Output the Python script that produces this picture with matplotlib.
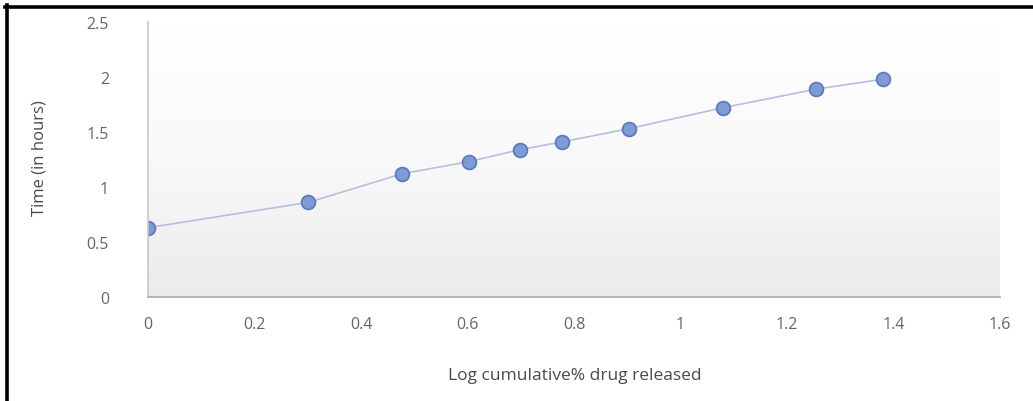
import matplotlib
matplotlib.use("Agg")
import matplotlib.pyplot as plt
import numpy as np
from matplotlib.colors import LinearSegmentedColormap
from matplotlib.lines import Line2D

# Data
log_cum_release = [0.0, 0.301, 0.477, 0.602, 0.699, 0.778, 0.903, 1.079, 1.255, 1.380]
time_hours = [0.63, 0.86, 1.12, 1.23, 1.34, 1.41, 1.53, 1.72, 1.89, 1.98]
x_ticks = [0, 0.2, 0.4, 0.6, 0.8, 1.0, 1.2, 1.4, 1.6]
x_tick_labels = ["0", "0.2", "0.4", "0.6", "0.8", "1", "1.2", "1.4", "1.6"]
y_ticks = [0, 0.5, 1.0, 1.5, 2.0, 2.5]
y_tick_labels = ["0", "0.5", "1", "1.5", "2", "2.5"]
x_label = "Log cumulative% drug released"
y_label = "Time (in hours)"

W, H = 1033, 402
fig = plt.figure(figsize=(W / 100, H / 100), dpi=100)
fig.patch.set_facecolor("white")

ax = fig.add_axes([148 / W, 1 - 298 / H, (1000 - 148) / W, (298 - 23) / H])
ax.set_xlim(0, 1.6)
ax.set_ylim(0, 2.5)
ax.set_facecolor("white")

# plot-area gradient (white at top to light gray at bottom)
cmap = LinearSegmentedColormap.from_list("g", ["#ebebeb", "#f9f9f9", "#ffffff"])
grad = np.linspace(0, 1, 256).reshape(-1, 1)
ax.imshow(grad, cmap=cmap, aspect="auto", extent=[0, 1, 0, 1],
          transform=ax.transAxes, origin="lower", zorder=0)

ax.plot(log_cum_release, time_hours, color="#b4c0dc", lw=1.2, zorder=2,
        marker="o", markersize=10, markerfacecolor="#7e9bd4",
        markeredgecolor="#5a78bb", markeredgewidth=1.2)

ax.set_xticks(x_ticks)
ax.set_xticklabels(x_tick_labels)
ax.set_yticks(y_ticks)
ax.set_yticklabels(y_tick_labels)
ax.tick_params(axis="both", length=0, labelsize=11.5, labelcolor="#666666")
ax.tick_params(axis="x", pad=14)
ax.tick_params(axis="y", pad=28)
for lab in ax.get_xticklabels() + ax.get_yticklabels():
    lab.set_family("Open Sans")

for s in ["top", "right"]:
    ax.spines[s].set_visible(False)
ax.spines["left"].set_color("#c8c8c8")
ax.spines["bottom"].set_color("#a8a8a8")
ax.spines["left"].set_linewidth(1.2)
ax.spines["bottom"].set_linewidth(1.2)

fig.text(575 / W, 1 - 376 / H, x_label, ha="center", va="center",
         fontsize=12.5, color="#4a4a4a", family="Open Sans")
fig.text(40 / W, 1 - 158 / H, y_label, ha="center", va="center",
         rotation=90, fontsize=12, color="#4a4a4a", family="Open Sans")

# black page frame (top and left edges)
fig.add_artist(Line2D([5 / W, 1.0], [1 - 7.5 / H, 1 - 7.5 / H],
                      transform=fig.transFigure, color="black", lw=2.6))
fig.add_artist(Line2D([6.5 / W, 6.5 / W], [0, 1 - 6 / H],
                      transform=fig.transFigure, color="black", lw=2.6))

fig.savefig("out.png", dpi=100)
